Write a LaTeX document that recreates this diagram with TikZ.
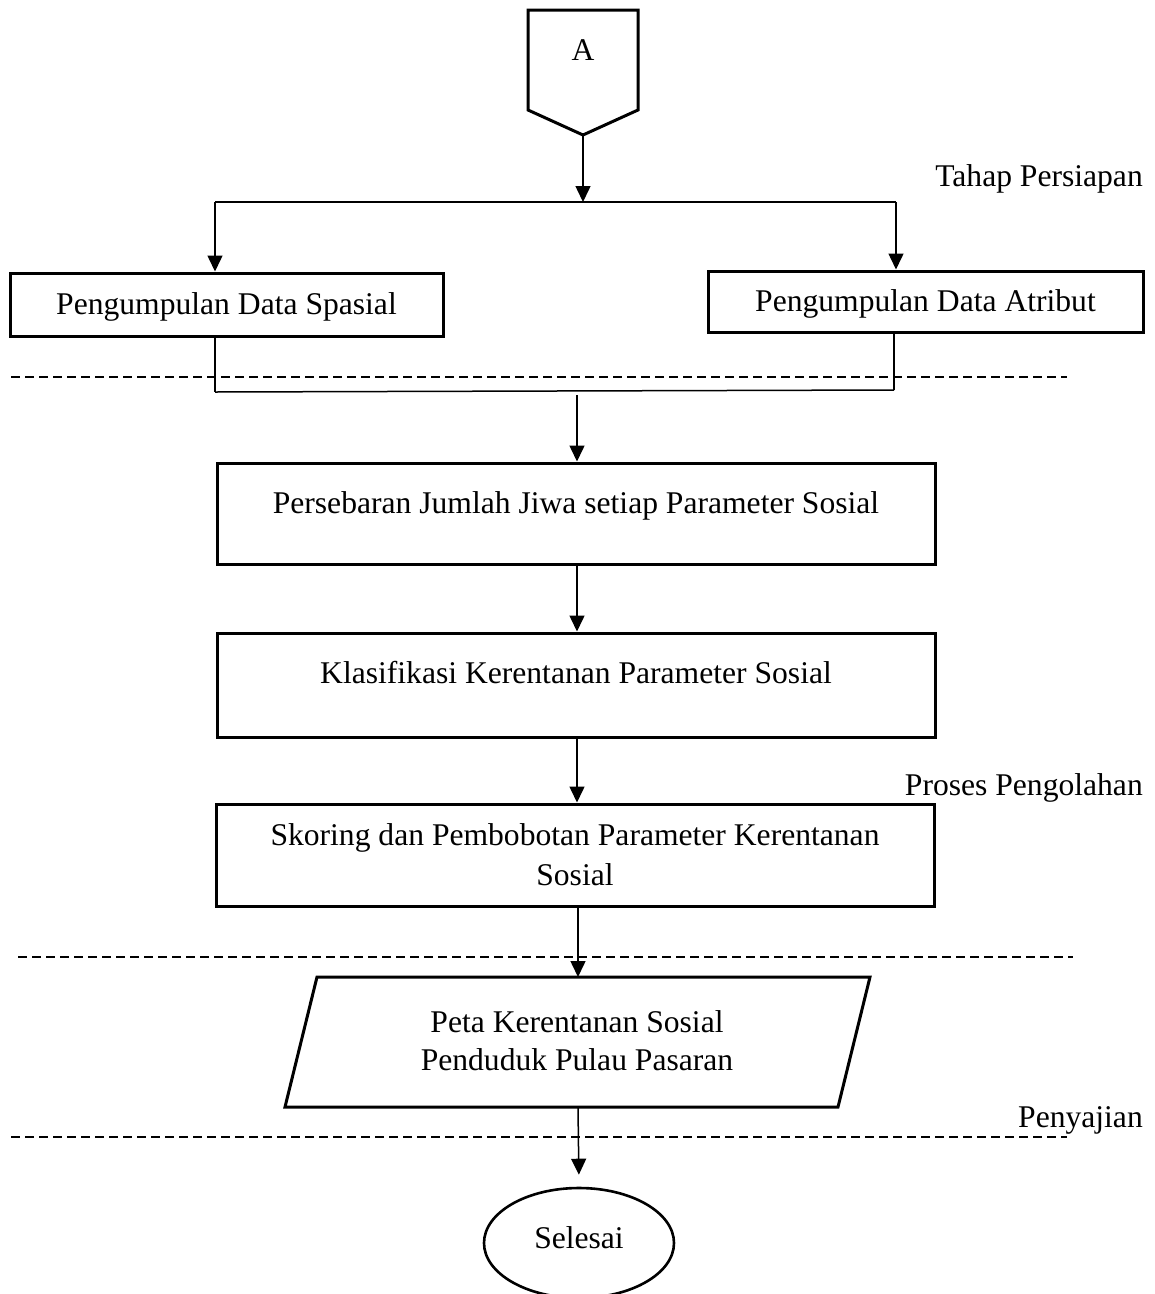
\documentclass[tikz,border=0pt]{standalone}
\usepackage{fontspec}
\setmainfont{Liberation Serif}
\usetikzlibrary{arrows.meta,shapes.geometric}
\begin{document}
\begin{tikzpicture}[x=1pt,y=-1pt,
  every node/.style={font=\fontsize{31.6}{38}\selectfont},
  boxstyle/.style={draw,line width=3pt,rectangle,inner sep=0pt},
  txt/.style={anchor=base,inner sep=0pt},
  conn/.style={line width=1.5pt},
  arr/.style={conn,-{Triangle[width=15pt,length=16pt]}},
  sep/.style={line width=2pt,dash pattern=on 9pt off 5pt},
  lbl/.style={anchor=base east,inner sep=0pt}]
\useasboundingbox (0,0) rectangle (1155,1294);

% off-page connector A
\coordinate (pA1) at (528,10);
\coordinate (pA2) at (638,10);
\coordinate (pA3) at (638,110);
\coordinate (pAb) at (583,135);
\coordinate (pA5) at (528,110);
\draw[line width=3pt,line join=miter] (pA1) -- (pA2) -- (pA3) -- (pAb) -- (pA5) -- cycle;
\node[txt] (tA) at (583,60) {A};

% boxes
\node[boxstyle,minimum width=433pt,minimum height=63pt] (b1) at (226.5,304.5) {};
\node[txt] (t1) at (226.5,314) {Pengumpulan Data Spasial};
\node[boxstyle,minimum width=435pt,minimum height=61pt] (b2) at (925.5,301.5) {};
\node[txt] (t2) at (925.5,311) {Pengumpulan Data Atribut};
\node[boxstyle,minimum width=718pt,minimum height=101pt] (b3) at (576,513.5) {};
\node[txt] (t3) at (576,513) {Persebaran Jumlah Jiwa setiap Parameter Sosial};
\node[boxstyle,minimum width=718pt,minimum height=104pt] (b4) at (576,685) {};
\node[txt] (t4) at (576,683) {Klasifikasi Kerentanan Parameter Sosial};
\node[boxstyle,minimum width=718pt,minimum height=102pt] (b5) at (575,855) {};
\node[txt] (t5a) at (575,845) {Skoring dan Pembobotan Parameter Kerentanan};
\node[txt] (t5b) at (575,885) {Sosial};

% parallelogram
\coordinate (q1) at (317,977);
\coordinate (q2) at (870,977);
\coordinate (q3) at (838,1107);
\coordinate (q4) at (285,1107);
\draw[line width=3pt] (q1) -- (q2) -- (q3) -- (q4) -- cycle;
\node[txt] (t6a) at (577,1032) {Peta Kerentanan Sosial};
\node[txt] (t6b) at (577,1070) {Penduduk Pulau Pasaran};
\coordinate (qtop) at (578,977);
\coordinate (qbot) at (578,1107);

% ellipse
\node[draw,ellipse,line width=2.6pt,minimum width=190pt,minimum height=110pt,inner sep=0pt] (end) at (579,1243) {};
\node[txt] (t7) at (579,1248) {Selesai};

% connectors
\coordinate (split) at (583,202);
\coordinate (sl) at (215,202);
\coordinate (sr) at (896,202);
\draw[arr] (pAb) -- (split);
\draw[conn] (sl) -- (sr);
\draw[arr] (sl) -- (sl |- b1.north);
\draw[arr] (sr) -- (sr |- b2.north);
\coordinate (ml) at (215,392);
\coordinate (mr) at (894,390);
\draw[conn] (ml |- b1.south) -- (ml);
\draw[conn] (mr |- b2.south) -- (mr);
\draw[conn] (ml) -- (mr);
\coordinate (mstart) at (577,395);
\draw[arr] (mstart) -- (mstart |- b3.north);
\draw[arr] (577,564) coordinate (c3) -- (c3 |- b4.north);
\draw[arr] (577,737) coordinate (c4) -- (c4 |- b5.north);
\draw[arr] (578,906) coordinate (c5) -- (qtop);
\draw[arr,shorten >=12pt] (qbot) -- (end.north);

% separators
\coordinate (d1a) at (11,376.5); \coordinate (d1b) at (1067,376.5);
\coordinate (d2a) at (18,957); \coordinate (d2b) at (1073,957);
\coordinate (d3a) at (11,1137); \coordinate (d3b) at (1067,1137);
\draw[sep] (d1a) -- (d1b);
\draw[sep] (d2a) -- (d2b);
\draw[sep] (d3a) -- (d3b);

% stage labels
\node[lbl] (l1) at (1143,186) {Tahap Persiapan};
\node[lbl] (l2) at (1143,795) {Proses Pengolahan};
\node[lbl] (l3) at (1143,1127) {Penyajian};
\end{tikzpicture}
\end{document}
